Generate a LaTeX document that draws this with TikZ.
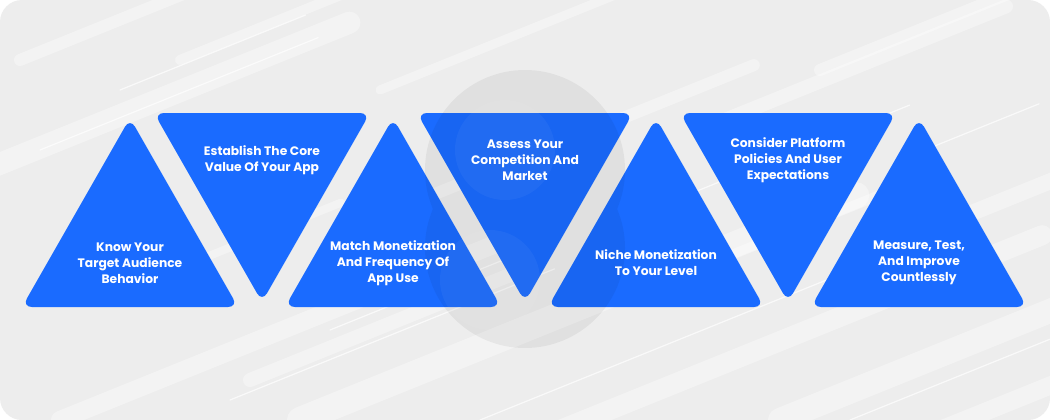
\documentclass[tikz,border=0pt]{standalone}
\usepackage{fontspec}
\setmainfont{Poppins}
\usetikzlibrary{positioning}
\definecolor{stepblue}{HTML}{1A6BFF}
\definecolor{paper}{HTML}{EDEDED}
\tikzset{node distance=263pt, x=1pt, y=-1pt}
\tikzset{tri/.style={fill=stepblue, rounded corners=10pt},
         tritext/.style={text=white, align=center,
           font=\bfseries\fontsize{12.3}{16}\selectfont}}

\begin{document}
\begin{tikzpicture}

  \useasboundingbox (0,0) rectangle (1050,420);

  % backdrop with some streaks
  \fill[white] (0,0) rectangle (1050,420);
  \fill[paper, rounded corners=22pt] (0,0) rectangle (1050,420);
  \begin{scope}
    \clip[rounded corners=22pt] (0,0) rectangle (1050,420);
    \foreach \sx/\sy/\len/\w in {-40/180/420/22, 60/420/520/18, 180/60/300/10,
        300/420/600/26, 420/200/360/12, 560/430/520/20, 700/130/330/14,
        780/420/400/24, 880/250/260/16, 100/300/260/8, 620/300/300/10,
        940/430/200/18, 20/60/250/12, 380/90/280/9, 820/70/260/12, 250/380/300/14}
      \draw[white, opacity=.35, line width=\w pt, line cap=round]
        (\sx,\sy) -- ++(-22:\len);
    \foreach \sx/\sy/\len in {40/150/300, 230/400/350, 480/420/400, 650/210/280,
        850/420/300, 120/90/200, 900/160/150, 330/330/200}
      \draw[white, opacity=.7, line width=1.2pt, line cap=round]
        (\sx,\sy) -- ++(-22:\len);
  \end{scope}

  % triangles
  \foreach \c in {130,393,656,919}
    \fill[tri] (\c-108,307) -- (\c,118) -- (\c+108,307) -- cycle;
  \foreach \c in {262,525,788}
    \fill[tri] (\c-108,113) -- (\c+108,113) -- (\c,302) -- cycle;

  % faint logo in the middle
  \fill[black, opacity=.05] (525,170) circle (100) (525,248) circle (100);
  \fill[white, opacity=.04] (505,150) circle (50) (490,280) circle (50);

  \node[tritext] (K1) at (130,263) {Know Your\\Target Audience\\Behavior};
  \node[tritext] (K3) [right of=K1] {Match Monetization\\And Frequency Of\\App Use};
  \node[tritext] (K5) [right of=K3] {Niche Monetization\\To Your Level};
  \node[tritext] (K7) [right of=K5] {Measure, Test,\\And Improve\\Countlessly};

  \node[tritext] (K2) at (262,160) {Establish The Core\\Value Of Your App};
  \node[tritext] (K4) [right of=K2] {Assess Your\\Competition And\\Market};
  \node[tritext] (K6) [right of=K4] {Consider Platform\\Policies And User\\Expectations};

\end{tikzpicture}
\end{document}
